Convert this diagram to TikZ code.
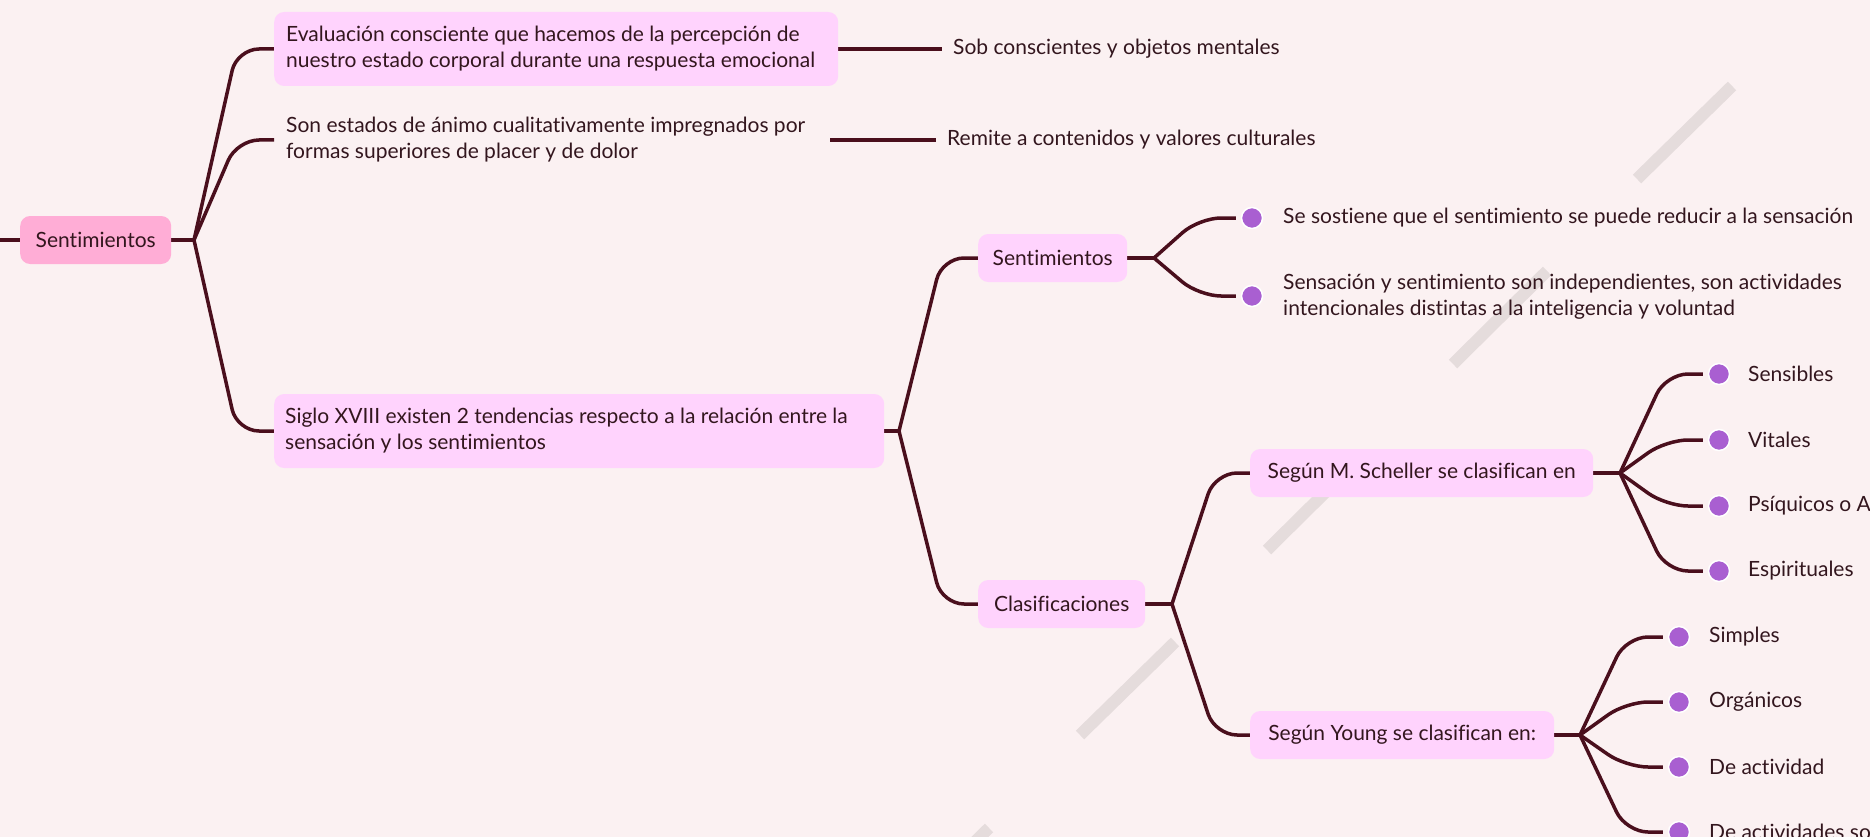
\documentclass[tikz,border=0pt]{standalone}
\usepackage{fontspec}
\setmainfont{Lato}[Ligatures={NoCommon}]
\definecolor{bgc}{HTML}{FBF1F2}
\definecolor{rootc}{HTML}{FFADD6}
\definecolor{boxc}{HTML}{FFD3FD}
\definecolor{linec}{HTML}{4A0F1D}
\definecolor{txt}{HTML}{33161E}
\definecolor{dotc}{HTML}{A95FD1}
\definecolor{wm}{HTML}{E5DCDC}
\pgfdeclarelayer{bglayer}
\pgfdeclarelayer{linelayer}
\pgfsetlayers{bglayer,linelayer,main}
\begin{document}
\begin{tikzpicture}[x=1pt,y=-1pt,
 every node/.style={font=\fontsize{21}{26}\selectfont, text=txt},
 conn/.style={draw=linec, line width=3.5pt, rounded corners=22pt},
 rootbox/.style={fill=rootc, rounded corners=10pt, minimum height=48pt, inner xsep=12pt, inner ysep=4pt, anchor=west},
 topicbox/.style={fill=boxc, rounded corners=10pt, minimum height=48pt, inner xsep=12pt, inner ysep=4pt, anchor=west},
 plainbox/.style={anchor=west, inner xsep=12pt, inner ysep=4pt, minimum height=74pt},
 sidetext/.style={anchor=west, inner xsep=11pt, inner ysep=0pt},
 leafdot/.style={circle, fill=dotc, draw=white, line width=1.5pt, minimum size=21pt, inner sep=0pt},
 leaftext/.style={anchor=west, inner sep=0pt},
 wmark/.style={draw=wm, line width=12pt},
]
\useasboundingbox (0,0) rectangle (1870,837);
\clip (0,0) rectangle (1870,837);
\begin{pgfonlayer}{bglayer}
\fill[bgc] (0,0) rectangle (1870,837);
\draw[wmark] (1637,179) -- (1732,86);
\draw[wmark] (1453,364) -- (1547,271);
\draw[wmark] (1267,550) -- (1361,457);
\draw[wmark] (1080,735) -- (1175,642);
\draw[wmark] (894,921) -- (989,828);
\end{pgfonlayer}

% nodes
\node[rootbox, minimum width=151pt] (root) at (20,240) {Sentimientos};
\node[topicbox, align=flush left, text width=540pt, minimum height=74pt] (A) at (274,49)
  {Evaluación consciente que hacemos de la percepción de\\nuestro estado corporal durante una respuesta emocional};
\node[sidetext] (A1) at (942,49) {Sob conscientes y objetos mentales};
\node[plainbox, align=flush left, text width=532pt] (B) at (274,140)
  {Son estados de ánimo cualitativamente impregnados por\\formas superiores de placer y de dolor};
\node[sidetext] (B1) at (936,140) {Remite a contenidos y valores culturales};
\node[topicbox, align=flush left, text width=588pt, inner xsep=11pt, minimum height=74pt] (C) at (274,431)
  {Siglo XVIII existen 2 tendencias respecto a la relación entre la\\sensación y los sentimientos};
\node[topicbox, minimum width=149pt] (D) at (978,258) {Sentimientos};
\node[topicbox, minimum width=167pt] (E) at (978,604) {Clasificaciones};
\node[topicbox, minimum width=343pt] (F) at (1250,473) {Según M. Scheller se clasifican en};
\node[topicbox, minimum width=304pt] (G) at (1250,735) {Según Young se clasifican en:};

\node[leafdot] (d1) at (1252,218) {};
\node[leafdot] (d2) at (1252,296) {};
\node[leaftext] (d1t) at (1283,218) {Se sostiene que el sentimiento se puede reducir a la sensación};
\node[leaftext, align=left] (d2t) at (1283,297) {Sensación y sentimiento son independientes, son actividades\\intencionales distintas a la inteligencia y voluntad};

\node[leafdot] (f1) at (1719,374) {};
\node[leafdot] (f2) at (1719,440) {};
\node[leafdot] (f3) at (1719,506) {};
\node[leafdot] (f4) at (1719,571) {};
\node[leaftext] (f1t) at (1748,374) {Sensibles};
\node[leaftext] (f2t) at (1748,440) {Vitales};
\node[leaftext] (f3t) at (1748,506) {Psíquicos o A};
\node[leaftext] (f4t) at (1748,571) {Espirituales};

\node[leafdot] (g1) at (1679,637) {};
\node[leafdot] (g2) at (1679,702) {};
\node[leafdot] (g3) at (1679,767) {};
\node[leafdot] (g4) at (1679,832) {};
\node[leaftext] (g1t) at (1709,637) {Simples};
\node[leaftext] (g2t) at (1709,702) {Orgánicos};
\node[leaftext] (g3t) at (1709,767) {De actividad};
\node[leaftext] (g4t) at (1709,832) {De actividades so};

% junction coordinates
\coordinate (L0) at (0,240);
\coordinate (J1) at (194,240);
\coordinate (J1c) at (237,240);
\coordinate (J2) at (899,431);
\coordinate (J2c) at (942,431);
\coordinate (J3) at (1154,258);
\coordinate (J3c) at (1199,258);
\coordinate (J4) at (1172,604);
\coordinate (J4c) at (1215,604);
\coordinate (J5) at (1620,473);
\coordinate (J5c) at (1666,473);
\coordinate (J6) at (1580,735);
\coordinate (J6c) at (1626,735);

\begin{pgfonlayer}{linelayer}
\draw[conn] (L0) -- (root.west);
\draw[conn] (root.east) -- (J1);
\draw[conn] (J1) -- (J1c |- A.west) -- (A.west);
\draw[conn] (J1) -- (J1c |- B.west) -- (B.west);
\draw[conn] (J1) -- (J1c |- C.west) -- (C.west);
\draw[conn] (A.east) -- (A1.west);
\draw[conn] (B.east) -- (B1.west);
\draw[conn] (C.east) -- (J2);
\draw[conn] (J2) -- (J2c |- D.west) -- (D.west);
\draw[conn] (J2) -- (J2c |- E.west) -- (E.west);
\draw[conn] (D.east) -- (J3);
\draw[conn, shorten >=5pt] (J3) -- (J3c |- d1.west) -- (d1.west);
\draw[conn, shorten >=5pt] (J3) -- (J3c |- d2.west) -- (d2.west);
\draw[conn] (E.east) -- (J4);
\draw[conn] (J4) -- (J4c |- F.west) -- (F.west);
\draw[conn] (J4) -- (J4c |- G.west) -- (G.west);
\draw[conn] (F.east) -- (J5);
\draw[conn, shorten >=5pt] (J5) -- (J5c |- f1.west) -- (f1.west);
\draw[conn, shorten >=5pt] (J5) -- (J5c |- f2.west) -- (f2.west);
\draw[conn, shorten >=5pt] (J5) -- (J5c |- f3.west) -- (f3.west);
\draw[conn, shorten >=5pt] (J5) -- (J5c |- f4.west) -- (f4.west);
\draw[conn] (G.east) -- (J6);
\draw[conn, shorten >=5pt] (J6) -- (J6c |- g1.west) -- (g1.west);
\draw[conn, shorten >=5pt] (J6) -- (J6c |- g2.west) -- (g2.west);
\draw[conn, shorten >=5pt] (J6) -- (J6c |- g3.west) -- (g3.west);
\draw[conn, shorten >=5pt] (J6) -- (J6c |- g4.west) -- (g4.west);
\end{pgfonlayer}
\end{tikzpicture}
\end{document}
